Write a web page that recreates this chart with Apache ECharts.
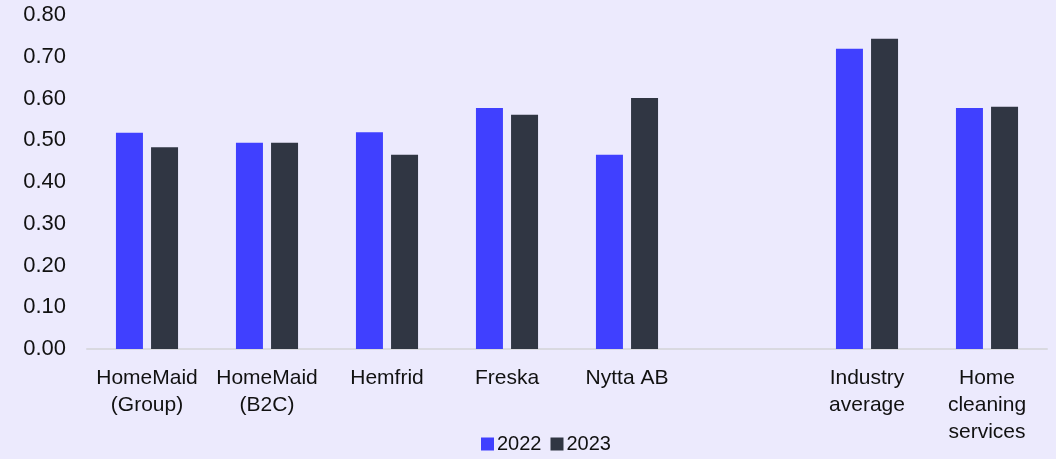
<!DOCTYPE html>
<html><head><meta charset="utf-8">
<script src="https://cdn.jsdelivr.net/npm/echarts@6/dist/echarts.min.js"></script>
<style>html,body{margin:0;padding:0;background:#ECEAFD;}#c{width:1056px;height:459px;}</style>
</head><body><div id="c"></div>
<script>
const categories = ["HomeMaid\n(Group)", "HomeMaid\n(B2C)", "Hemfrid", "Freska", "Nytta AB", "", "Industry\naverage", "Home\ncleaning\nservices"];
const values2022 = [0.518, 0.494, 0.519, 0.577, 0.465, null, 0.719, 0.577];
const values2023 = [0.483, 0.494, 0.465, 0.561, 0.601, null, 0.743, 0.580];
const yTicks = {min: 0, max: 0.8, interval: 0.1};
const seriesNames = ["2022", "2023"];

const FONT = "Liberation Sans";
const chart = echarts.init(document.getElementById('c'), null, {renderer: 'canvas'});
chart.setOption({
  backgroundColor: '#ECEAFD',
  animation: false,
  textStyle: {fontFamily: FONT},
  grid: {left: 87, right: 9, top: 15, bottom: 110, containLabel: false},
  legend: {
    data: seriesNames, top: 429, left: 476, itemWidth: 13, itemHeight: 13, itemGap: 9,
    icon: 'rect',
    textStyle: {fontFamily: FONT, fontSize: 20, color: '#111', padding: [0,0,0,-2]}
  },
  xAxis: {
    type: 'category', data: categories,
    axisLine: {lineStyle: {color: '#D9D9E0', width: 2}},
    axisTick: {show: false},
    axisLabel: {fontFamily: FONT, fontSize: 21, color: '#111', lineHeight: 27, margin: 16, interval: 0}
  },
  yAxis: {
    type: 'value', min: yTicks.min, max: yTicks.max, interval: yTicks.interval,
    splitLine: {show: false},
    axisLine: {show: false}, axisTick: {show: false},
    axisLabel: {fontFamily: FONT, fontSize: 22, color: '#111', margin: 21, formatter: v => v.toFixed(2)}
  },
  series: [
    {name: seriesNames[0], type: 'bar', data: values2022, barWidth: 27, barGap: '30%', itemStyle: {color: '#4040FF'}},
    {name: seriesNames[1], type: 'bar', data: values2023, barWidth: 27, barGap: '30%', itemStyle: {color: '#303643'}}
  ]
});
</script></body></html>
